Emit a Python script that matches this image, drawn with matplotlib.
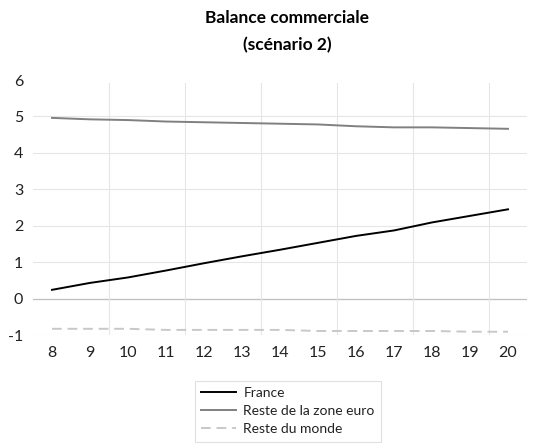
import matplotlib
matplotlib.use("Agg")
import matplotlib.pyplot as plt

plt.rcParams['font.family'] = ['Lato', 'DejaVu Sans']

years = [8, 9, 10, 11, 12, 13, 14, 15, 16, 17, 18, 19, 20]
france = [0.24, 0.43, 0.58, 0.77, 0.97, 1.16, 1.34, 1.53, 1.72, 1.87, 2.09, 2.27, 2.45]
reste_zone_euro = [4.96, 4.92, 4.9, 4.86, 4.84, 4.82, 4.8, 4.78, 4.73, 4.7, 4.7, 4.68, 4.66]
reste_monde = [-0.83, -0.83, -0.83, -0.86, -0.86, -0.86, -0.86, -0.89, -0.89, -0.89, -0.89, -0.91, -0.91]

y_ticks = [-1, 0, 1, 2, 3, 4, 5, 6]

fig = plt.figure(figsize=(5.4, 4.48), dpi=100)
ax = fig.add_axes([33 / 540, 113 / 448, 494 / 540, 255 / 448])

ax.plot(years, france, color='black', lw=1.4, label='France')
ax.plot(years, reste_zone_euro, color='#808080', lw=1.4, label='Reste de la zone euro')
ax.plot(years, reste_monde, color='#c8c8c8', lw=1.4, ls=(0, (5, 3)), label='Reste du monde')

ax.set_xlim(7.5, 20.5)
ax.set_ylim(-1, 6)
ax.set_xticks(years)
ax.set_yticks(y_ticks)
ax.set_yticklabels([str(v) for v in y_ticks])

# gridlines: horizontal at each unit (none at the top), vertical every two categories
for v in y_ticks[:-1]:
    ax.axhline(v, color='#bfbfbf' if v == 0 else '#e6e6e6', lw=0.9 if v == 0 else 0.8, zorder=0)
for xv in [9.5, 11.5, 13.5, 15.5, 17.5, 19.5]:
    ax.axvline(xv, ymax=0.99, color='#e6e6e6', lw=0.8, zorder=0)

for s in ax.spines.values():
    s.set_visible(False)
ax.tick_params(length=0, labelsize=11.5, colors='#222222')
ax.tick_params(axis='x', pad=8)
ax.tick_params(axis='y', pad=7)

fig.text(0.532, 0.96, 'Balance commerciale', ha='center', va='center',
         fontsize=12.5, fontweight='bold')
fig.text(0.532, 0.9, '(scénario 2)', ha='center', va='center',
         fontsize=12.5, fontweight='bold')

leg = fig.legend(loc='center', bbox_to_anchor=(288 / 540, 1 - 411 / 448),
                 frameon=True, fancybox=False, edgecolor='#d9d9d9',
                 fontsize=10, handlelength=2.5, handletextpad=0.55,
                 labelspacing=0.45, borderpad=0.45)
leg.get_frame().set_linewidth(0.8)
for t in leg.get_texts():
    t.set_color('#222222')

fig.savefig('out.png', dpi=100)
